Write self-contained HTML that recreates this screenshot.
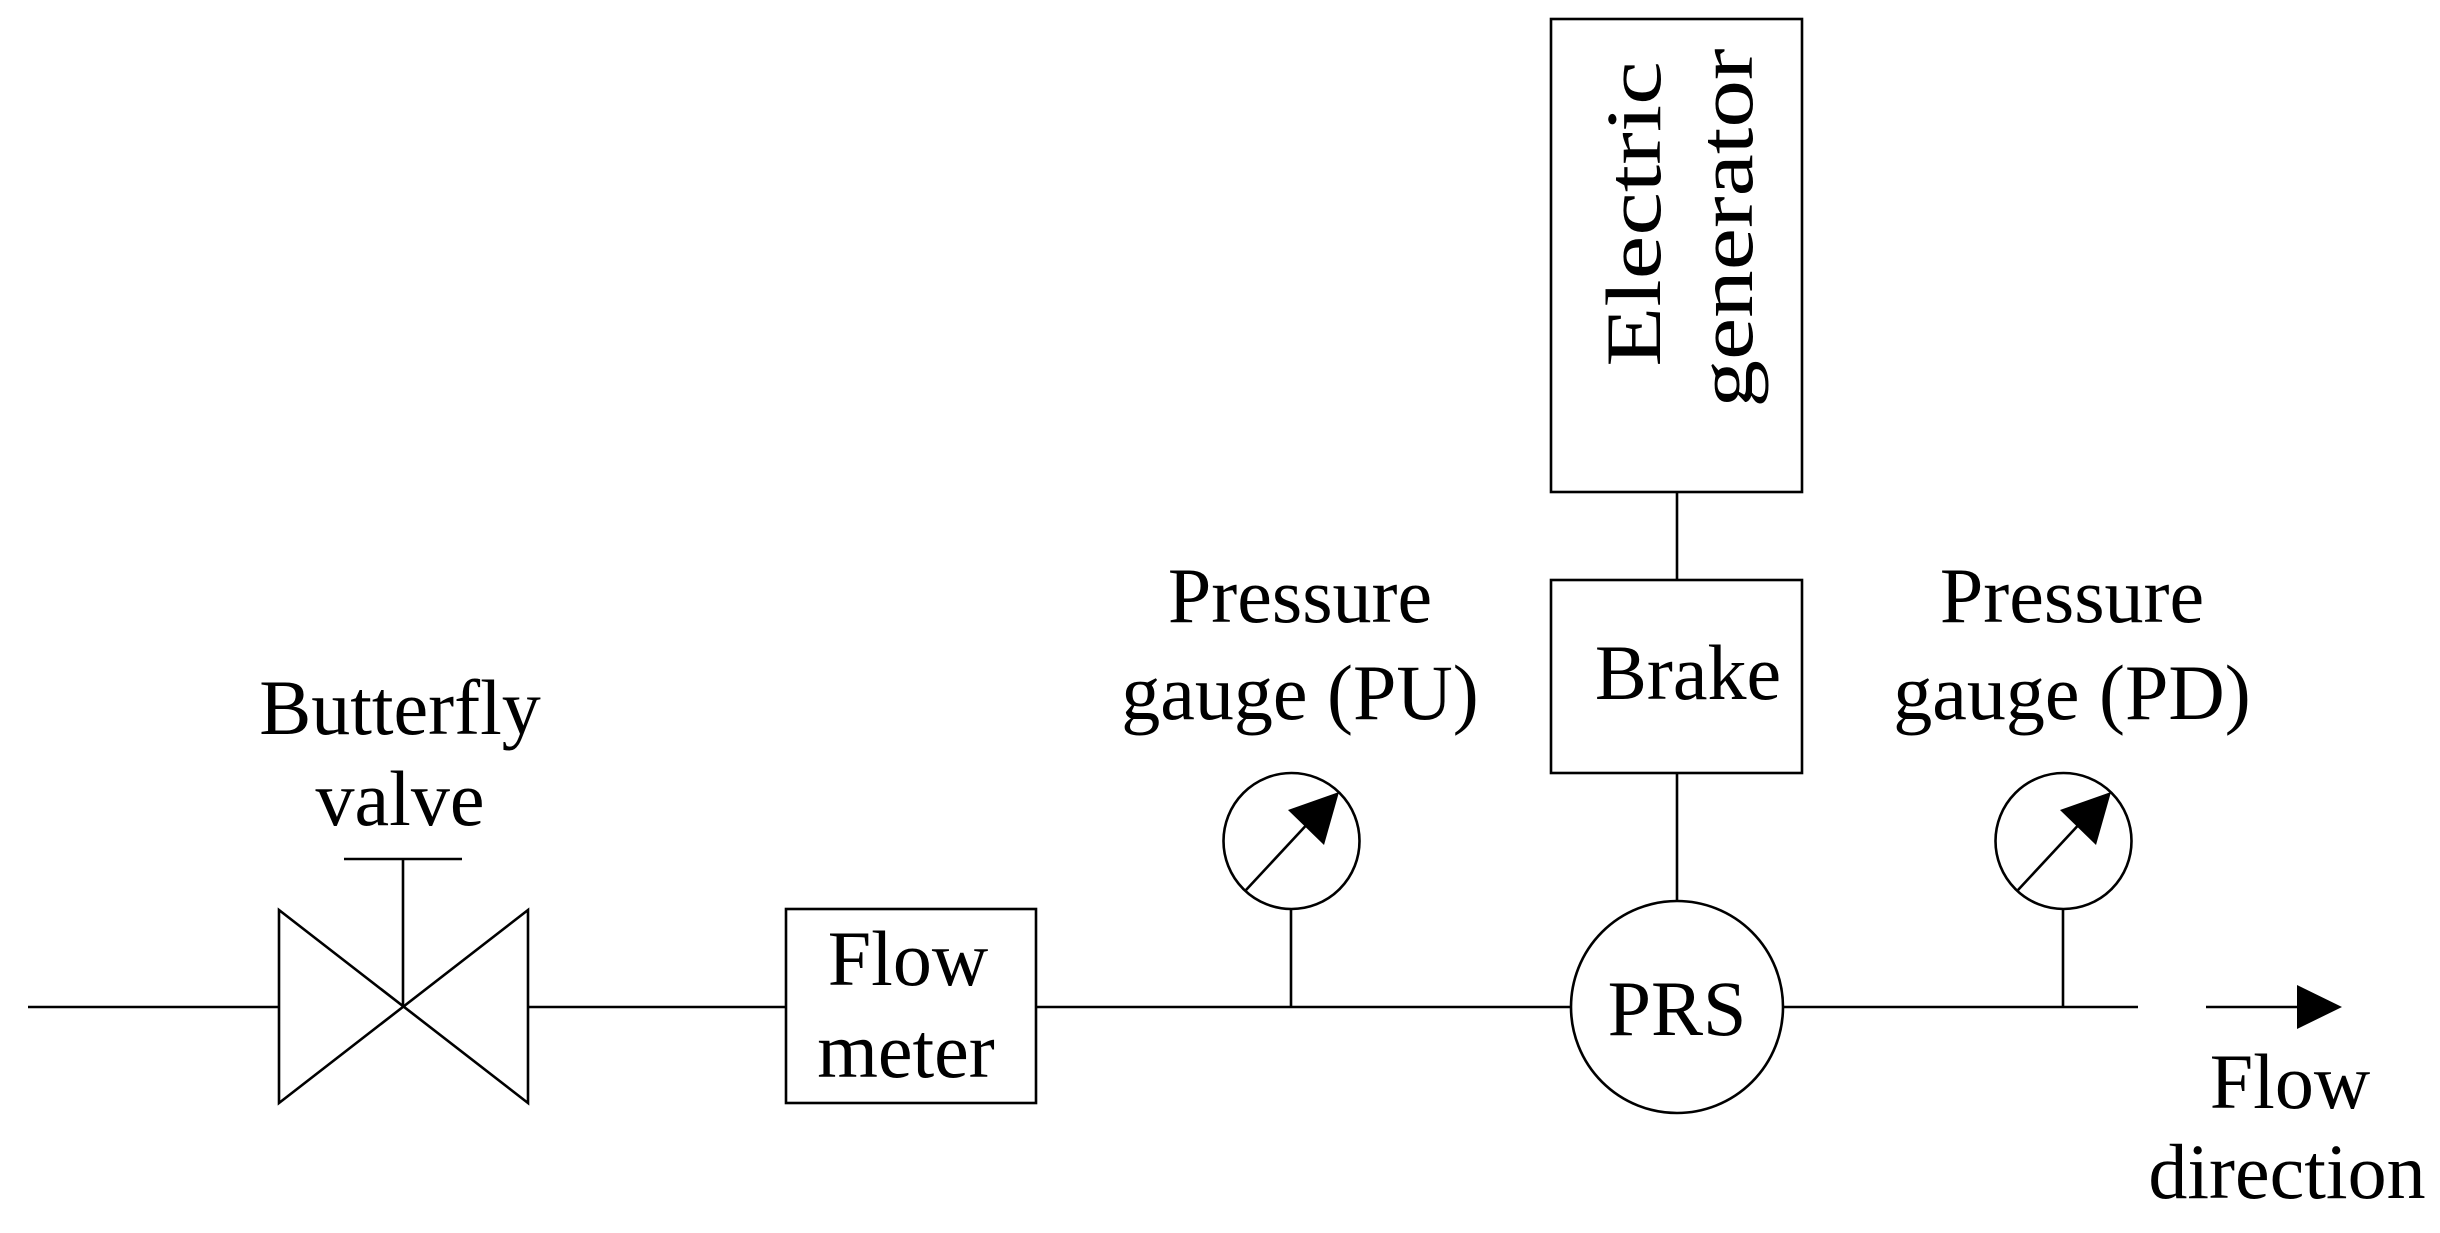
<!DOCTYPE html>
<html><head><meta charset="utf-8"><style>html,body{margin:0;padding:0;background:#fff}</style></head>
<body>
<svg width="2440" height="1228" viewBox="0 0 2440 1228" xmlns="http://www.w3.org/2000/svg">
<g stroke="#000" stroke-width="2.6" fill="none">
<line x1="28" y1="1007" x2="279" y2="1007"/>
<polygon points="279,910 528,1103 528,910 279,1103" fill="#fff"/>
<line x1="403" y1="1007" x2="403" y2="859"/>
<line x1="344" y1="859" x2="462" y2="859"/>
<line x1="528" y1="1007" x2="786" y2="1007"/>
<rect x="786" y="909" width="250" height="194"/>
<line x1="1036" y1="1007" x2="1571" y2="1007"/>
<line x1="1783" y1="1007" x2="2138" y2="1007"/>
<line x1="1291" y1="1007" x2="1291" y2="909"/>
<circle cx="1291.5" cy="841" r="68"/>
<line x1="1246" y1="890" x2="1312" y2="819"/>
<line x1="2063" y1="1007" x2="2063" y2="909"/>
<circle cx="2063.5" cy="841" r="68"/>
<line x1="2018" y1="890" x2="2084" y2="819"/>
<circle cx="1677" cy="1007" r="106"/>
<rect x="1551" y="19" width="251" height="473"/>
<rect x="1551" y="580" width="251" height="193"/>
<line x1="1677" y1="492" x2="1677" y2="580"/>
<line x1="1677" y1="773" x2="1677" y2="901"/>
<line x1="2206" y1="1007" x2="2300" y2="1007"/>
</g>
<g fill="#000">
<polygon points="1339,792 1288,810 1324,845"/>
<polygon points="2111,792 2060,810 2096,845"/>
<polygon points="2342,1007 2297,985 2297,1029"/>
</g>
<g font-family="Liberation Serif, serif" font-size="78" text-anchor="middle" fill="#000">
<text x="400" y="734">Butterfly</text>
<text x="400" y="825">valve</text>
<text x="908" y="985">Flow</text>
<text x="906" y="1077">meter</text>
<text x="1300" y="622">Pressure</text>
<text x="1300" y="719">gauge (PU)</text>
<text x="2072" y="622">Pressure</text>
<text x="2072" y="719">gauge (PD)</text>
<text x="1688" y="699">Brake</text>
<text x="1677" y="1035">PRS</text>
<text x="2290" y="1108">Flow</text>
<text x="2287" y="1198">direction</text>
<text transform="translate(1660,214) rotate(-90) scale(1.26,1)">Electric</text>
<text transform="translate(1752,228) rotate(-90) scale(1.22,1)">generator</text>
</g>
</svg>
</body></html>
